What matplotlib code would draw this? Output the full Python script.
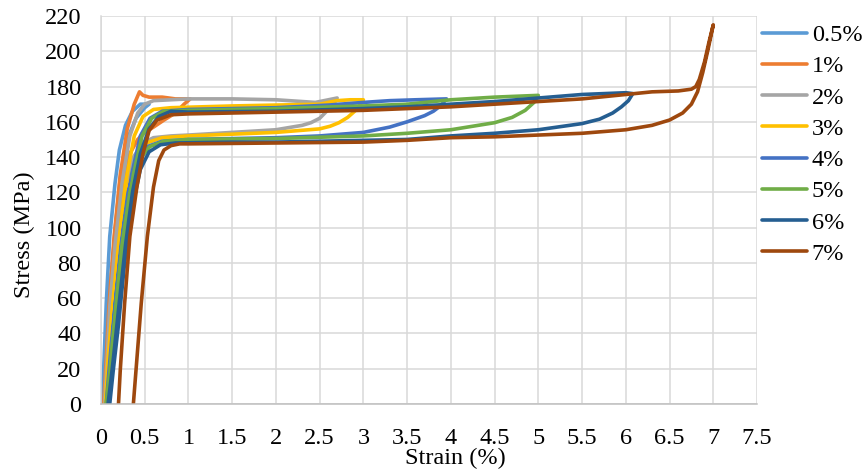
import matplotlib
matplotlib.use("Agg")
import matplotlib.pyplot as plt
import numpy as np

plt.rcParams['font.family'] = ['Liberation Serif', 'DejaVu Serif']

# series labels and Excel-like colours
labels = ['0.5%', '1%', '2%', '3%', '4%', '5%', '6%', '7%']
colors = ['#5B9BD5', '#ED7D31', '#A5A5A5', '#FFC000', '#4472C4', '#70AD47', '#255E91', '#9E480E']

# each loop: lower branch (start -> end), then upper branch (end -> start)
lo_05 = ([0.03, 0.06, 0.10, 0.16, 0.22, 0.30, 0.40, 0.50, 0.55], [0, 25, 60, 98, 128, 150, 162, 168, 170])
up_05 = ([0.55, 0.45, 0.36, 0.28, 0.21, 0.16, 0.10, 0.06, 0.03, 0.0], [170, 170, 166, 158, 144, 125, 95, 57, 19, 0])

lo_1 = ([0.05, 0.08, 0.12, 0.18, 0.25, 0.33, 0.42, 0.50, 0.60, 0.72, 0.85, 0.95, 1.02],
        [0, 22, 55, 92, 122, 142, 150, 154, 157, 161, 165, 170, 173])
up_1 = ([1.02, 0.85, 0.70, 0.55, 0.48, 0.44, 0.38, 0.30, 0.22, 0.15, 0.09, 0.06, 0.03],
        [173, 173, 174, 174, 175, 177, 170, 156, 130, 95, 55, 25, 0])

lo_2 = ([0.06, 0.09, 0.14, 0.20, 0.28, 0.37, 0.48, 0.60, 0.80, 1.0, 1.5, 2.0, 2.3, 2.4, 2.5, 2.56, 2.62, 2.67, 2.7],
        [0, 22, 55, 90, 120, 140, 148, 151, 152, 152.5, 154, 155.5, 158, 159.5, 162, 165, 168, 171, 173.5])
up_2 = ([2.7, 2.6, 2.45, 2.3, 2.0, 1.5, 1.0, 0.6, 0.5, 0.42, 0.33, 0.24, 0.16, 0.1, 0.07, 0.04],
        [173.5, 172.5, 171, 171.5, 172.5, 173, 173, 172, 170, 165, 152, 125, 90, 55, 25, 0])

lo_3 = ([0.07, 0.10, 0.15, 0.22, 0.30, 0.40, 0.52, 0.70, 1.0, 1.5, 2.0, 2.5, 2.62, 2.72, 2.82, 2.9, 2.96, 3.0],
        [0, 22, 55, 90, 120, 140, 148, 151, 152, 153, 154, 156, 157.5, 159.5, 162.5, 166, 169.5, 172.5])
up_3 = ([3.0, 2.85, 2.7, 2.6, 2.5, 2.0, 1.5, 0.8, 0.6, 0.48, 0.38, 0.28, 0.20, 0.13, 0.08, 0.05],
        [172.5, 172.5, 172, 171, 170, 169.5, 169, 168, 167, 163, 152, 125, 90, 55, 25, 0])

lo_4 = ([0.08, 0.11, 0.16, 0.23, 0.31, 0.41, 0.53, 0.70, 1.0, 2.0, 2.5, 3.0, 3.3, 3.5, 3.7, 3.8, 3.88, 3.95],
        [0, 22, 55, 90, 120, 138, 146, 149, 150, 151, 152, 154, 157, 160, 163.5, 166, 169, 173])
up_4 = ([3.95, 3.6, 3.3, 3.0, 2.6, 2.0, 1.0, 0.7, 0.56, 0.45, 0.35, 0.26, 0.18, 0.12, 0.09, 0.06],
        [173, 172.5, 172, 171, 169.5, 168, 167, 166, 162, 152, 130, 100, 65, 35, 18, 0])

lo_5 = ([0.09, 0.12, 0.17, 0.24, 0.33, 0.43, 0.56, 0.72, 1.0, 2.0, 3.0, 3.5, 4.0, 4.5, 4.7, 4.85, 4.95, 5.0],
        [0, 22, 55, 90, 120, 138, 146, 149, 150, 150.5, 152, 153.5, 155.5, 159.5, 162.5, 166.5, 171, 175])
up_5 = ([5.0, 4.5, 4.0, 3.5, 3.0, 2.0, 1.0, 0.72, 0.58, 0.47, 0.37, 0.28, 0.2, 0.13, 0.1, 0.06],
        [175, 174, 172.5, 170, 169, 167.5, 166.5, 166, 162, 152, 130, 100, 65, 35, 18, 0])

lo_6 = ([0.10, 0.14, 0.20, 0.27, 0.36, 0.45, 0.55, 0.68, 0.85, 1.5, 2.0, 3.0, 3.5, 4.0, 4.5, 5.0, 5.5, 5.7,
         5.85, 5.95, 6.03, 6.08],
        [0, 19, 45, 80, 112, 133, 143, 147, 148, 148.5, 148.5, 149.5, 150, 152, 153.5, 155.5, 159, 161.5,
         165, 168.5, 172, 176])
up_6 = ([6.08, 6.0, 5.5, 5.0, 4.5, 4.0, 3.5, 3.0, 2.0, 1.0, 0.8, 0.66, 0.55, 0.45, 0.36, 0.28, 0.21, 0.14,
         0.11, 0.08],
        [176, 176.5, 175.5, 173.5, 171.5, 170, 168.5, 167.5, 166, 165.5, 166, 163, 156, 142, 120, 90, 58, 25,
         12, 0])

lo_7 = ([0.37, 0.40, 0.46, 0.53, 0.60, 0.66, 0.72, 0.80, 0.9, 1.0, 2.0, 3.0, 3.5, 4.0, 4.5, 5.0, 5.5, 6.0,
         6.3, 6.5, 6.65, 6.75, 6.82, 6.88, 6.94, 7.0],
        [0, 19, 57, 95, 123, 138, 144, 146.5, 147.5, 147.5, 148, 148.5, 149.5, 151, 151.5, 152.5, 153.5, 155.5,
         158, 161, 165, 170, 177, 188, 201, 215])
up_7 = ([7.0, 6.95, 6.9, 6.84, 6.8, 6.75, 6.6, 6.3, 6.0, 5.5, 5.0, 4.5, 4.0, 3.5, 3.0, 2.0, 1.5, 1.0,
         0.8, 0.64, 0.55, 0.48, 0.41, 0.33, 0.27, 0.22, 0.2],
        [215, 205, 194, 184, 180, 178.5, 177.5, 177, 175.5, 173, 171.5, 170, 168.5, 167.5, 166.5, 165.5, 165,
         164.5, 164, 161, 155, 142, 123, 95, 57, 19, 0])

lower = [lo_05, lo_1, lo_2, lo_3, lo_4, lo_5, lo_6, lo_7]
upper = [up_05, up_1, up_2, up_3, up_4, up_5, up_6, up_7]

fig = plt.figure(figsize=(8.67, 4.75), dpi=100)
ax = fig.add_axes([101 / 867, 71 / 475, 656 / 867, 388 / 475])

for lo, up, c, lab in zip(lower, upper, colors, labels):
    x = np.concatenate([lo[0], up[0]])
    y = np.concatenate([lo[1], up[1]])
    ax.plot(x, y, color=c, lw=2.6, label=lab, solid_joinstyle='round', solid_capstyle='round')

ax.set_xlim(0, 7.5)
ax.set_ylim(0, 220)
xt = np.arange(0, 7.51, 0.5)
ax.set_xticks(xt)
ax.set_yticks(np.arange(0, 221, 20))
ax.set_xticklabels(['%g' % v for v in xt])
ax.grid(True, color='#D9D9D9', lw=1.1)
ax.set_axisbelow(True)
for s in ['top', 'right']:
    ax.spines[s].set_visible(False)
ax.spines['left'].set_color('#D9D9D9')
ax.spines['bottom'].set_color('#BFBFBF')
ax.spines['left'].set_linewidth(1.1)
ax.spines['bottom'].set_linewidth(1.1)
ax.tick_params(axis='x', length=0, pad=17, labelsize=17.5)
ax.tick_params(axis='y', length=0, pad=14, labelsize=17.5)
ax.set_xlabel('Strain (%)', fontsize=17.5)
ax.set_ylabel('Stress (MPa)', fontsize=17.5)
ax.xaxis.set_label_coords(0.54, -0.113)
ax.yaxis.set_label_coords(-0.1006, 0.436)

fig.legend(loc='upper left', bbox_to_anchor=(762 / 867, 1 - 24 / 475), frameon=False,
           fontsize=17.5, handlelength=1.85, handletextpad=0.2, labelspacing=0.38, borderpad=0,
           borderaxespad=0)

fig.savefig('out.png', dpi=100)
